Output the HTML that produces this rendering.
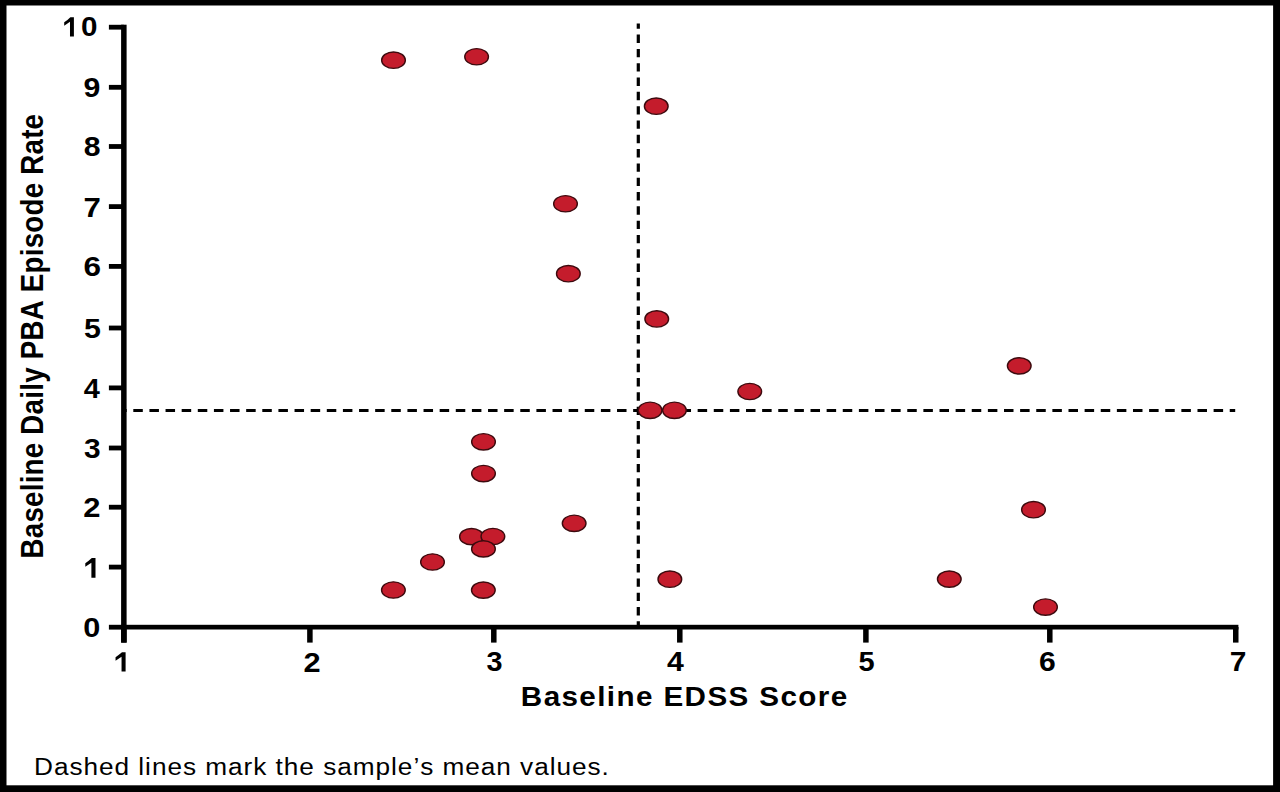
<!DOCTYPE html>
<html><head><meta charset="utf-8"><style>
html,body{margin:0;padding:0;background:#fff;}
svg{display:block;}
text{font-kerning:none;}
.tl{font-family:"Liberation Sans",sans-serif;font-weight:bold;font-size:28px;fill:#000;}
.xt{font-family:"Liberation Sans",sans-serif;font-weight:bold;font-size:27.70px;letter-spacing:1.300px;fill:#000;}
.yt{font-family:"Liberation Sans",sans-serif;font-weight:bold;font-size:27.70px;letter-spacing:0.250px;fill:#000;}
.fn{font-family:"Liberation Sans",sans-serif;font-size:24.35px;letter-spacing:0.900px;fill:#000;}
</style></head><body>
<svg width="1280" height="792" viewBox="0 0 1280 792">
<rect x="0" y="0" width="1280" height="792" fill="#000"/>
<rect x="6.5" y="5.5" width="1266.6" height="779.8" fill="#fff"/>
<line x1="638.3" y1="23.6" x2="638.3" y2="625" stroke="#000" stroke-width="3.2" stroke-dasharray="8.4 5.91" stroke-dashoffset="3.31"/>
<line x1="126" y1="410.5" x2="1235.2" y2="410.5" stroke="#000" stroke-width="3" stroke-dasharray="9.5 6.624" stroke-dashoffset="8.82"/>
<rect x="121.1" y="24.7" width="5.5" height="617.90" fill="#000"/>
<rect x="121.1" y="624.8" width="1117.30" height="4.7" fill="#000"/>
<rect x="108.9" y="624.80" width="15" height="4.8" fill="#000"/>
<rect x="108.9" y="564.70" width="15" height="4.8" fill="#000"/>
<rect x="108.9" y="504.80" width="15" height="4.8" fill="#000"/>
<rect x="108.9" y="445.60" width="15" height="4.8" fill="#000"/>
<rect x="108.9" y="385.50" width="15" height="4.8" fill="#000"/>
<rect x="108.9" y="325.60" width="15" height="4.8" fill="#000"/>
<rect x="108.9" y="264.00" width="15" height="4.8" fill="#000"/>
<rect x="108.9" y="204.20" width="15" height="4.8" fill="#000"/>
<rect x="108.9" y="144.10" width="15" height="4.8" fill="#000"/>
<rect x="108.9" y="84.90" width="15" height="4.8" fill="#000"/>
<rect x="108.9" y="24.80" width="15" height="4.8" fill="#000"/>
<rect x="121.15" y="627" width="5.5" height="15.6" fill="#000"/>
<rect x="307.15" y="627" width="5.5" height="15.6" fill="#000"/>
<rect x="491.05" y="627" width="5.5" height="15.6" fill="#000"/>
<rect x="677.05" y="627" width="5.5" height="15.6" fill="#000"/>
<rect x="863.15" y="627" width="5.5" height="15.6" fill="#000"/>
<rect x="1047.05" y="627" width="5.5" height="15.6" fill="#000"/>
<rect x="1233.00" y="627" width="5.5" height="15.6" fill="#000"/>
<g transform="translate(-7.867 -3.125) scale(1.0815 1)"><text x="100" y="100" text-anchor="end" class="tl">9</text></g>
<g transform="translate(-7.348 56.375) scale(1.0786 1)"><text x="100" y="100" text-anchor="end" class="tl">8</text></g>
<g transform="translate(-10.644 116.575) scale(1.1154 1)"><text x="100" y="100" text-anchor="end" class="tl">7</text></g>
<g transform="translate(-11.467 176.475) scale(1.1259 1)"><text x="100" y="100" text-anchor="end" class="tl">6</text></g>
<g transform="translate(-7.757 237.800) scale(1.0857 1)"><text x="100" y="100" text-anchor="end" class="tl">5</text></g>
<g transform="translate(-3.375 298.275) scale(1.0333 1)"><text x="100" y="100" text-anchor="end" class="tl">4</text></g>
<g transform="translate(-6.218 357.595) scale(1.0679 1)"><text x="100" y="100" text-anchor="end" class="tl">3</text></g>
<g transform="translate(-10.260 417.250) scale(1.1067 1)"><text x="100" y="100" text-anchor="end" class="tl">2</text></g>
<g transform="translate(-9.464 536.675) scale(1.0974 1)"><text x="100" y="100" text-anchor="end" class="tl">0</text></g>
<path d="M73.90 17.20 L73.90 36.40 L69.99 36.40 L69.99 21.75 L64.20 25.65 L64.20 22.27 L67.40 19.89 L69.54 17.97 L70.41 17.20 Z" fill="#000"/>
<g transform="translate(-8.140 -63.575) scale(1.0566 1)"><text x="100" y="100" text-anchor="end" class="tl">0</text></g>
<path d="M95.50 558.05 L95.50 577.70 L91.39 577.70 L91.39 562.71 L85.30 566.70 L85.30 563.24 L88.67 560.80 L90.91 558.84 L91.83 558.05 Z" fill="#000"/>
<g transform="translate(202.154 571.600) scale(1.0993 1)"><text x="100" y="100" text-anchor="middle" class="tl">2</text></g>
<g transform="translate(391.600 571.475) scale(1.0286 1)"><text x="100" y="100" text-anchor="middle" class="tl">3</text></g>
<g transform="translate(567.400 571.475) scale(1.0800 1)"><text x="100" y="100" text-anchor="middle" class="tl">4</text></g>
<g transform="translate(763.079 571.350) scale(1.0357 1)"><text x="100" y="100" text-anchor="middle" class="tl">5</text></g>
<g transform="translate(940.043 571.475) scale(1.0741 1)"><text x="100" y="100" text-anchor="middle" class="tl">6</text></g>
<g transform="translate(1131.127 571.475) scale(1.0692 1)"><text x="100" y="100" text-anchor="middle" class="tl">7</text></g>
<path d="M125.60 652.15 L125.60 671.50 L121.55 671.50 L121.55 656.74 L115.55 660.66 L115.55 657.26 L118.87 654.86 L121.08 652.92 L121.98 652.15 Z" fill="#000"/>
<text x="0" y="0" class="xt" transform="translate(520.850 705.500) scale(1.0700 1)">Baseline EDSS Score</text>
<g transform="translate(43.0 336.1) scale(1.108 1) rotate(-90)"><text x="0" y="0" text-anchor="middle" class="yt">Baseline Daily PBA Episode Rate</text></g>
<ellipse cx="393.50" cy="60.20" rx="11.85" ry="8.15" fill="#c41c2c" stroke="#3c0a0e" stroke-width="1.40"/>
<ellipse cx="476.60" cy="56.75" rx="11.85" ry="8.15" fill="#c41c2c" stroke="#3c0a0e" stroke-width="1.40"/>
<ellipse cx="656.25" cy="106.20" rx="11.85" ry="8.15" fill="#c41c2c" stroke="#3c0a0e" stroke-width="1.40"/>
<ellipse cx="565.50" cy="203.75" rx="11.85" ry="8.15" fill="#c41c2c" stroke="#3c0a0e" stroke-width="1.40"/>
<ellipse cx="568.35" cy="273.70" rx="11.85" ry="8.15" fill="#c41c2c" stroke="#3c0a0e" stroke-width="1.40"/>
<ellipse cx="656.75" cy="318.95" rx="11.85" ry="8.15" fill="#c41c2c" stroke="#3c0a0e" stroke-width="1.40"/>
<ellipse cx="1019.25" cy="365.85" rx="11.85" ry="8.15" fill="#c41c2c" stroke="#3c0a0e" stroke-width="1.40"/>
<ellipse cx="749.75" cy="391.50" rx="11.85" ry="8.15" fill="#c41c2c" stroke="#3c0a0e" stroke-width="1.40"/>
<ellipse cx="650.10" cy="410.30" rx="11.85" ry="8.15" fill="#c41c2c" stroke="#3c0a0e" stroke-width="1.40"/>
<ellipse cx="674.45" cy="410.30" rx="11.85" ry="8.15" fill="#c41c2c" stroke="#3c0a0e" stroke-width="1.40"/>
<ellipse cx="483.50" cy="441.80" rx="11.85" ry="8.15" fill="#c41c2c" stroke="#3c0a0e" stroke-width="1.40"/>
<ellipse cx="483.50" cy="473.55" rx="11.85" ry="8.15" fill="#c41c2c" stroke="#3c0a0e" stroke-width="1.40"/>
<ellipse cx="1033.50" cy="509.70" rx="11.85" ry="8.15" fill="#c41c2c" stroke="#3c0a0e" stroke-width="1.40"/>
<ellipse cx="574.15" cy="523.30" rx="11.85" ry="8.15" fill="#c41c2c" stroke="#3c0a0e" stroke-width="1.40"/>
<ellipse cx="471.50" cy="536.65" rx="11.85" ry="8.15" fill="#c41c2c" stroke="#3c0a0e" stroke-width="1.40"/>
<ellipse cx="492.90" cy="536.50" rx="11.85" ry="8.15" fill="#c41c2c" stroke="#3c0a0e" stroke-width="1.40"/>
<ellipse cx="483.45" cy="548.90" rx="11.85" ry="8.15" fill="#c41c2c" stroke="#3c0a0e" stroke-width="1.40"/>
<ellipse cx="432.50" cy="562.00" rx="11.85" ry="8.15" fill="#c41c2c" stroke="#3c0a0e" stroke-width="1.40"/>
<ellipse cx="393.40" cy="590.00" rx="11.85" ry="8.15" fill="#c41c2c" stroke="#3c0a0e" stroke-width="1.40"/>
<ellipse cx="483.35" cy="590.10" rx="11.85" ry="8.15" fill="#c41c2c" stroke="#3c0a0e" stroke-width="1.40"/>
<ellipse cx="669.85" cy="579.20" rx="11.85" ry="8.15" fill="#c41c2c" stroke="#3c0a0e" stroke-width="1.40"/>
<ellipse cx="949.30" cy="579.10" rx="11.85" ry="8.15" fill="#c41c2c" stroke="#3c0a0e" stroke-width="1.40"/>
<ellipse cx="1045.50" cy="607.05" rx="11.85" ry="8.15" fill="#c41c2c" stroke="#3c0a0e" stroke-width="1.40"/>
<text x="0" y="0" class="fn" transform="translate(34.000 774.900) scale(1.0760 1)">Dashed lines mark the sample’s mean values.</text>
</svg>
</body></html>
